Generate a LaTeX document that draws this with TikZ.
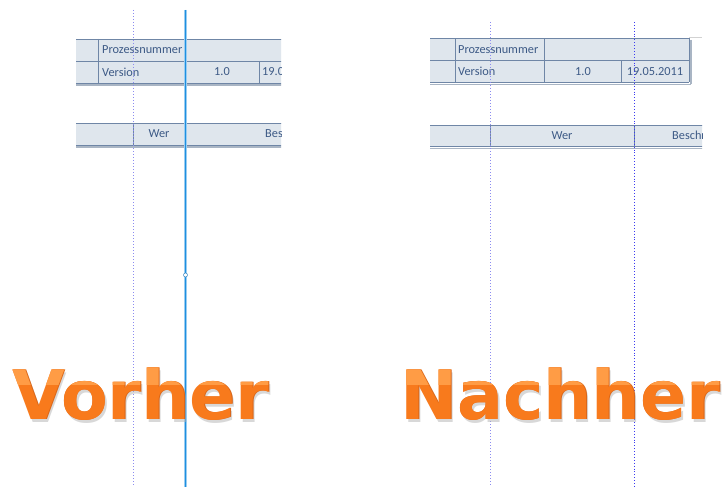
\documentclass[tikz,border=0pt]{standalone}
\usepackage{fontspec}
\setmainfont{Carlito}
\newfontfamily\bigfont{DejaVu Sans}
\definecolor{cellfill}{HTML}{DFE6ED}
\definecolor{cellline}{HTML}{6F86A6}
\definecolor{celltext}{HTML}{3D5A86}
\definecolor{shadowline}{HTML}{A9B5C4}
\definecolor{guidepurple}{HTML}{8C8CF0}
\definecolor{guideblue}{HTML}{3A3AF0}
\definecolor{selblue}{HTML}{1E8FE0}
\definecolor{orangebody}{HTML}{F87A1C}
\definecolor{orangelight}{HTML}{FF9C45}
\definecolor{orangeedge}{HTML}{D8661A}
\tikzset{
  cellborder/.style={draw=cellline, line width=0.9pt},
  celltxt/.style={text=celltext, font=\fontsize{12.3}{13}\selectfont, inner sep=0pt},
  tshadow/.style={draw=shadowline, line width=1.6pt},
  guidea/.style={draw=guidepurple, line width=1pt, dotted},
  guideb/.style={draw=guideblue, line width=0.9pt, dotted},
  bigword/.style={font=\bigfont\bfseries\fontsize{68}{70}\selectfont, inner sep=0pt, anchor=base west},
}
\begin{document}
\begin{tikzpicture}[x=1pt,y=-1pt]
\useasboundingbox[fill=white] (0,0) rectangle (724,487);

% ---------------- Left panel ----------------
\begin{scope}
\clip (0,0) rectangle (281,487);
% table 1
\fill[cellfill] (76,39) rectangle (282,83);
\draw[tshadow] (76,85) -- (282,85);
\draw[cellborder] (76,39) -- (282,39) (76,61) -- (282,61) (76,83) -- (282,83);
\draw[cellborder] (98.5,39) -- (98.5,83) (185,39) -- (185,83) (259,61) -- (259,83);
\node[celltxt, anchor=west] (lpn) at (102,50) {Prozessnummer};
\node[celltxt, anchor=west] (lver) at (102,72) {Version};
\node[celltxt] (lone) at (222,72) {1.0};
\node[celltxt, anchor=west] (ldate) at (262,72) {19.05.2011};
% table 2
\fill[cellfill] (76,123) rectangle (282,145);
\draw[tshadow] (76,147) -- (282,147);
\draw[cellborder] (76,123) -- (282,123) (76,145) -- (282,145);
\draw[cellborder] (133.5,123) -- (133.5,145) (185,123) -- (185,145);
\node[celltxt] (lwer) at (159,134) {Wer};
\node[celltxt, anchor=west] (lbes) at (265,134) {Beschreibung};
\end{scope}
% guides
\coordinate (ga1) at (133.5,10); \coordinate (ga2) at (133.5,487);
\draw[guidea] (ga1) -- (ga2);
\coordinate (sb1) at (185.5,10); \coordinate (sb2) at (185.5,487);
\draw[selblue!45, line width=3pt] (sb1) -- (sb2);
\draw[selblue, line width=1.2pt] (sb1) -- (sb2);
\node[circle, draw=selblue!70!gray, fill=white, line width=0.5pt, minimum size=4pt, inner sep=0pt] (handle) at (185.5,275) {};

% ---------------- Right panel ----------------
\begin{scope}
\clip (0,0) rectangle (702,487);
\draw[gray!35, line width=1pt] (689,37.5) -- (702,37.5);
% table 1
\fill[cellfill] (430,38.5) rectangle (689,82.5);
\draw[tshadow] (430,84.5) -- (691,84.5) (691,40) -- (691,84.5);
\draw[cellborder] (430,38.5) -- (689,38.5) (430,60.5) -- (689,60.5) (430,82.5) -- (689,82.5);
\draw[cellborder] (455,38.5) -- (455,82.5) (544.5,38.5) -- (544.5,82.5) (621,60.5) -- (621,82.5) (689,38.5) -- (689,82.5);
\node[celltxt, anchor=west] (rpn) at (458,49.5) {Prozessnummer};
\node[celltxt, anchor=west] (rver) at (458,71.5) {Version};
\node[celltxt] (rone) at (583,71.5) {1.0};
\node[celltxt] (rdate) at (655,71.5) {19.05.2011};
% table 2
\fill[cellfill] (430,125.5) rectangle (703,146.5);
\draw[tshadow] (430,148.5) -- (703,148.5);
\draw[cellborder] (430,125.5) -- (703,125.5) (430,146.5) -- (703,146.5);
\draw[cellborder] (490.5,125.5) -- (490.5,146.5) (634,125.5) -- (634,146.5);
\node[celltxt] (rwer) at (562,136) {Wer};
\node[celltxt, anchor=west] (rbes) at (672,136) {Beschreibung};
\end{scope}
\coordinate (gb1) at (490.5,22); \coordinate (gb2) at (490.5,487);
\draw[guidea] (gb1) -- (gb2);
\coordinate (gc1) at (634,22); \coordinate (gc2) at (634,487);
\draw[guideb] (gc1) -- (gc2);

% ---------------- Big words ----------------
\node[bigword, text=black!30, opacity=0.5] (vshadow) at (14,422.5) {Vorher};
\node[bigword, text=orangeedge] (vedge) at (12.8,419.8) {Vorher};
\node[bigword, text=orangebody] (vorher) at (12,419) {Vorher};
\node[bigword, text=black!30, opacity=0.5] (nshadow) at (402,422.5) {Nachher};
\node[bigword, text=orangeedge] (nedge) at (400.8,419.8) {Nachher};
\node[bigword, text=orangebody] (nachher) at (400,419) {Nachher};
\begin{scope}
\clip (0,355) rectangle (724,384);
\node[bigword, text=orangelight] (vtop) at (12,419) {Vorher};
\node[bigword, text=orangelight] (ntop) at (400,419) {Nachher};
\end{scope}
\end{tikzpicture}
\end{document}
